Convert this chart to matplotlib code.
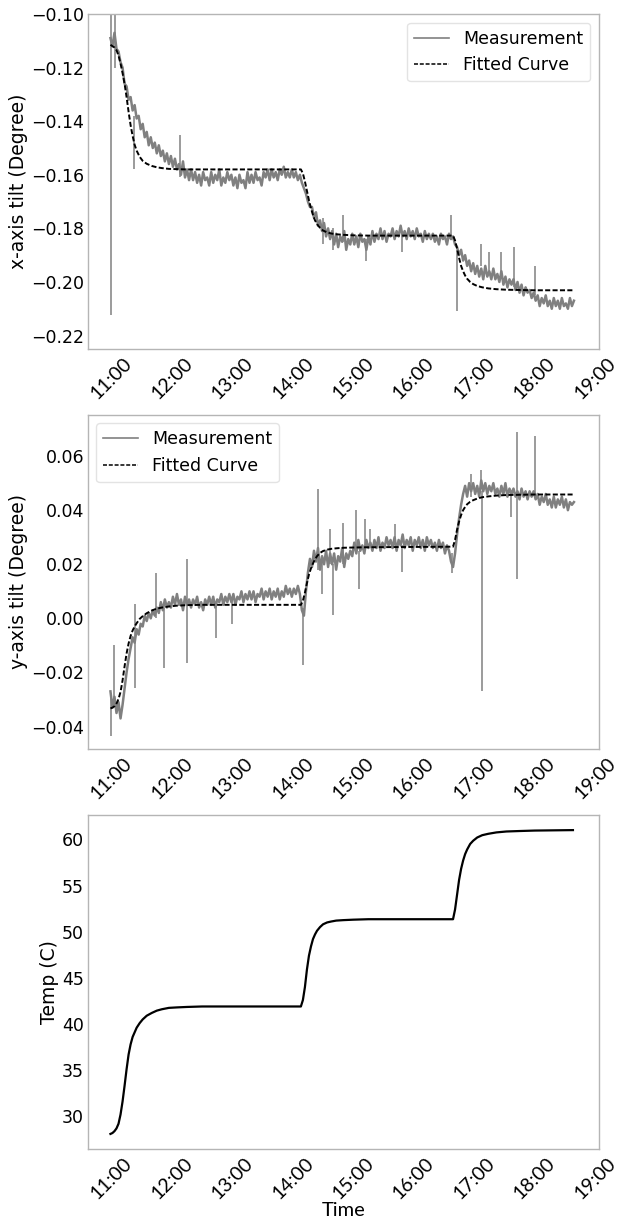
import matplotlib
matplotlib.use("Agg")
import matplotlib.pyplot as plt
import matplotlib.dates as mdates
import pandas as pd

DAY = "2019-06-12 "
SAMPLE_START = "10:59"
SAMPLE_STEP = "2min"

# ---- measured tilt (milli-degree), one sample every 2 minutes from 10:59 ----
# each row covers 20 minutes
x_meas_mdeg = [
    -109, -112, -107, -113, -114, -118, -120, -126, -127, -132,   # 10:59
    -131, -136, -134, -139, -138, -143, -141, -146, -144, -149,   # 11:19
    -146, -150, -148, -152, -149, -153, -151, -155, -152, -156,   # 11:39
    -153, -157, -154, -158, -156, -160, -155, -161, -158, -162,   # 11:59
    -158, -162, -159, -163, -160, -164, -159, -162, -161, -164,   # 12:19
    -159, -163, -160, -162, -158, -164, -161, -163, -159, -162,   # 12:39
    -160, -164, -161, -165, -160, -163, -162, -165, -159, -163,   # 12:59
    -160, -163, -159, -162, -161, -164, -159, -161, -158, -162,   # 13:19
    -158, -161, -159, -162, -158, -160, -157, -161, -159, -161,   # 13:39
    -158, -161, -159, -162, -160, -163, -165, -167, -170, -172,   # 13:59
    -172, -176, -174, -179, -177, -181, -178, -183, -180, -184,   # 14:19
    -181, -186, -182, -187, -183, -185, -181, -188, -184, -186,   # 14:39
    -182, -186, -183, -187, -182, -185, -184, -188, -183, -186,   # 14:59
    -181, -185, -182, -184, -180, -184, -181, -185, -182, -183,   # 15:19
    -180, -184, -181, -183, -179, -183, -181, -184, -180, -183,   # 15:39
    -181, -184, -180, -183, -182, -185, -181, -184, -182, -184,   # 15:59
    -182, -185, -183, -186, -182, -184, -183, -186, -182, -184,   # 16:19
    -183, -186, -187, -190, -188, -192, -190, -194, -192, -196,   # 16:39
    -193, -197, -194, -198, -195, -199, -194, -198, -196, -199,   # 16:59
    -195, -199, -197, -200, -196, -201, -198, -202, -199, -201,   # 17:19
    -199, -203, -200, -204, -201, -205, -202, -204, -203, -206,   # 17:39
    -204, -207, -205, -209, -206, -208, -205, -209, -207, -210,   # 17:59
    -206, -209, -207, -210, -206, -209, -208, -210, -206, -209,   # 18:19
    -207,                                                         # 18:39
]
y_meas_mdeg = [
    -27, -33, -29, -35, -31, -37, -32, -26, -20, -15,   # 10:59
    -11, -7, -9, -4, -6, -2, -3, 1, -1, 2,              # 11:19
    0, 3, 1, 4, 2, 6, 3, 7, 4, 6,                       # 11:39
    4, 8, 5, 9, 5, 7, 3, 8, 5, 7,                       # 11:59
    4, 7, 5, 8, 4, 6, 3, 7, 5, 8,                       # 12:19
    5, 8, 4, 7, 6, 9, 5, 8, 6, 9,                       # 12:39
    6, 9, 5, 8, 7, 10, 6, 9, 7, 10,                     # 12:59
    7, 10, 6, 9, 8, 11, 7, 10, 8, 11,                   # 13:19
    7, 10, 8, 11, 7, 10, 8, 12, 9, 11,                  # 13:39
    8, 11, 9, 12, 9, 3, 1, 10, 17, 22,                  # 13:59
    19, 25, 21, 26, 18, 23, 20, 25, 19, 24,             # 14:19
    20, 24, 18, 23, 21, 26, 19, 24, 22, 25,             # 14:39
    23, 28, 24, 29, 25, 27, 24, 29, 26, 28,             # 14:59
    25, 29, 26, 30, 25, 28, 26, 30, 27, 29,             # 15:19
    26, 30, 25, 29, 27, 31, 26, 29, 27, 30,             # 15:39
    25, 29, 27, 30, 26, 29, 25, 30, 27, 29,             # 15:59
    26, 28, 25, 29, 26, 28, 24, 27, 25, 21,             # 16:19
    19, 24, 31, 37, 42, 46, 49, 45, 50, 47,             # 16:39
    50, 46, 49, 45, 51, 47, 50, 46, 49, 47,             # 16:59
    50, 46, 48, 45, 49, 46, 50, 45, 48, 46,             # 17:19
    48, 45, 47, 44, 48, 45, 47, 44, 47, 45,             # 17:39
    47, 44, 46, 42, 45, 43, 46, 42, 44, 41,             # 17:59
    45, 41, 44, 42, 45, 41, 44, 40, 43, 42,             # 18:19
    43,                                                 # 18:39
]

# ---- isolated spikes in the measurement: time, low end, high end (milli-degree) ----
x_spike_times = ["10:59:40", "11:04:00", "11:22:00", "12:08:00", "14:30:00", "14:40:00",
                 "14:50:00", "15:13:00", "15:48:00", "16:37:00", "16:43:00", "17:07:00",
                 "17:15:00", "17:27:00", "17:40:00", "18:00:00"]
x_spike_low = [-212.5, -120, -158, -161, -186, -188,
               -185, -192, -189, -183, -211, -194,
               -197, -199, -202, -205]
x_spike_high = [-96, -97, -138, -145, -176, -180,
                -175, -184, -182, -175, -188, -186,
                -189, -189, -187, -194]

y_spike_times = ["10:59:40", "11:03:00", "11:23:00", "11:44:00", "11:52:00", "12:15:00",
                 "12:44:00", "13:00:00", "14:10:00", "14:25:00", "14:29:00", "14:37:00",
                 "14:40:00", "14:50:00", "15:03:00", "15:06:00", "15:12:00", "15:17:00",
                 "15:41:00", "15:48:00", "16:38:00", "16:57:00", "17:07:00", "17:08:00",
                 "17:37:00", "17:42:00", "18:00:00"]
y_spike_low = [-43.5, -32, -25.6, 0, -18.2, -16.4,
               -7.2, -2.2, -17.4, 18, 8.9, 20,
               1.1, 20, 24, 10.7, 26, 26,
               27, 17.1, 16.9, 45, 48, -27,
               37.4, 14.6, 45]
y_spike_high = [-28, -10, 5.2, 16.9, 4, 21.8,
                6, 8, 4, 47.7, 22, 32.9,
                20, 35.3, 39.9, 25, 36.6, 32.9,
                35, 27, 24, 53.2, 55, 47,
                46, 68.8, 67.6]

# ---- smooth curves: fitted tilt and temperature ----
fit_times = [
    "10:59", "11:01", "11:03", "11:05", "11:07", "11:09", "11:11", "11:13",
    "11:15", "11:17", "11:19", "11:21", "11:23", "11:25", "11:28", "11:31",
    "11:35", "11:40", "11:45", "11:50", "11:57", "12:05", "12:15", "12:30",
    "14:08", "14:10", "14:12", "14:14", "14:16", "14:18", "14:20", "14:22",
    "14:24", "14:27", "14:30", "14:34", "14:38", "14:43", "14:50", "15:00", "15:15",
    "16:39", "16:41", "16:43", "16:45", "16:47", "16:49", "16:51", "16:53",
    "16:56", "16:59", "17:03", "17:08", "17:14", "17:22", "17:32", "17:45",
    "18:00", "18:38",
]
x_fit_mdeg = [
    -111.5, -112.0, -112.5, -113.5, -115.5, -118.5, -122.0, -126.0,
    -131.0, -136.5, -141.5, -145.5, -148.8, -151.0, -153.3, -154.8,
    -155.9, -156.7, -157.2, -157.5, -157.8, -157.9, -158.0, -158.0,
    -158.0, -159.5, -162.5, -166.0, -169.5, -172.5, -175.0, -177.0,
    -178.4, -179.8, -180.8, -181.5, -181.9, -182.2, -182.4, -182.6, -182.7,
    -182.7, -184.5, -187.5, -191.0, -194.0, -196.0, -197.6, -198.8,
    -200.0, -200.8, -201.5, -202.0, -202.4, -202.7, -202.9, -203.0,
    -203.1, -203.1,
]
y_fit_mdeg = [
    -33.3, -33.0, -32.5, -31.5, -29.8, -27.2, -23.0, -17.8,
    -13.0, -9.3, -6.5, -4.5, -3.0, -1.8, -0.2, 0.8,
    1.9, 2.9, 3.6, 4.0, 4.4, 4.7, 4.9, 5.0,
    5.0, 6.5, 9.5, 13.0, 16.2, 18.5, 20.3, 21.8,
    23.0, 24.2, 24.9, 25.4, 25.7, 25.9, 26.1, 26.2, 26.3,
    26.5, 29.0, 32.8, 35.8, 38.2, 40.0, 41.2, 42.2,
    43.1, 43.7, 44.3, 44.8, 45.1, 45.4, 45.6, 45.7,
    45.8, 45.8,
]
temp_c = [
    28.1, 28.2, 28.4, 28.7, 29.2, 30.2, 31.6, 33.3,
    35.1, 36.7, 37.8, 38.6, 39.1, 39.6, 40.1, 40.5,
    40.9, 41.2, 41.45, 41.6, 41.75, 41.8, 41.85, 41.9,
    41.9, 42.6, 44.0, 45.9, 47.4, 48.4, 49.2, 49.7,
    50.1, 50.5, 50.8, 51.0, 51.1, 51.2, 51.25, 51.3, 51.35,
    51.35, 52.4, 54.0, 55.6, 56.8, 57.7, 58.4, 58.9,
    59.5, 59.85, 60.2, 60.45, 60.6, 60.75, 60.85, 60.9,
    60.95, 61.0,
]

x_yticks = [-0.22, -0.20, -0.18, -0.16, -0.14, -0.12, -0.10]
y_yticks = [-0.04, -0.02, 0.00, 0.02, 0.04, 0.06]
t_yticks = [30, 35, 40, 45, 50, 55, 60]
xlim_times = ["10:36:20", "19:03:40"]

# ------------------------------------------------------------------
def to_time(labels):
    return pd.to_datetime([DAY + s for s in labels], format="mixed")

x_t = pd.date_range(DAY + SAMPLE_START, periods=len(x_meas_mdeg), freq=SAMPLE_STEP)
y_t = pd.date_range(DAY + SAMPLE_START, periods=len(y_meas_mdeg), freq=SAMPLE_STEP)
fit_t = to_time(fit_times)

GRAY = "#808080"
SPINE = "#b5b5b5"
TICK_FONT = ["Lato", "DejaVu Sans"]
FIT_STYLE = dict(color="black", ls=(0, (2.6, 1.2)), lw=1.4, label="Fitted Curve", zorder=3)
MEAS_LW = 1.8

fig = plt.figure(figsize=(6.17, 12.18), dpi=100)
ax1 = fig.add_axes([0.142, 0.7135, 0.8285, 0.2750])
ax2 = fig.add_axes([0.142, 0.3853, 0.8285, 0.2742])
ax3 = fig.add_axes([0.142, 0.0569, 0.8285, 0.2737])

# panel 1: x tilt
ax1.plot(x_t, [v / 1000 for v in x_meas_mdeg], color=GRAY, lw=MEAS_LW, label="Measurement", zorder=2)
ax1.vlines(to_time(x_spike_times), [v / 1000 for v in x_spike_low],
           [v / 1000 for v in x_spike_high], color=GRAY, lw=1.1, zorder=2)
ax1.plot(fit_t, [v / 1000 for v in x_fit_mdeg], **FIT_STYLE)
ax1.set_ylim(-0.2250, -0.1000)
ax1.set_yticks(x_yticks)
ax1.set_ylabel("x-axis tilt (Degree)", fontsize=13.5, labelpad=2)
ax1.legend(loc="upper right", fontsize=12.5)

# panel 2: y tilt
ax2.plot(y_t, [v / 1000 for v in y_meas_mdeg], color=GRAY, lw=MEAS_LW, label="Measurement", zorder=2)
ax2.vlines(to_time(y_spike_times), [v / 1000 for v in y_spike_low],
           [v / 1000 for v in y_spike_high], color=GRAY, lw=1.1, zorder=2)
ax2.plot(fit_t, [v / 1000 for v in y_fit_mdeg], **FIT_STYLE)
ax2.set_ylim(-0.0482, 0.0753)
ax2.set_yticks(y_yticks)
ax2.set_ylabel("y-axis tilt (Degree)", fontsize=13.5, labelpad=2)
ax2.legend(loc="upper left", fontsize=12.5)

# panel 3: temperature
ax3.plot(fit_t, temp_c, color="black", lw=1.6)
ax3.set_ylim(26.5, 62.6)
ax3.set_yticks(t_yticks)
ax3.set_ylabel("Temp (C)", fontsize=13.5, labelpad=2)
ax3.set_xlabel("Time", fontsize=14.5, family=TICK_FONT, labelpad=0)

xl = to_time(xlim_times)
for ax in (ax1, ax2, ax3):
    ax.set_xlim(xl[0], xl[1])
    ax.xaxis.set_major_locator(mdates.HourLocator())
    ax.xaxis.set_major_formatter(mdates.DateFormatter("%H:%M"))
    for sp in ax.spines.values():
        sp.set_color(SPINE)
        sp.set_linewidth(1.0)
    ax.tick_params(axis="both", length=0)
    ax.tick_params(axis="y", labelsize=12.5, pad=2.5)
    ax.tick_params(axis="x", pad=4)
    for lab in ax.get_xticklabels():
        lab.set_rotation(45)
        lab.set_fontsize(14)
        lab.set_family(TICK_FONT)
    leg = ax.get_legend()
    if leg is not None:
        leg.get_frame().set_edgecolor("#dddddd")
        leg.get_lines()[0].set_linewidth(1.2)
        leg.get_lines()[1].set_linewidth(1.1)

fig.savefig("out.png", dpi=100)
